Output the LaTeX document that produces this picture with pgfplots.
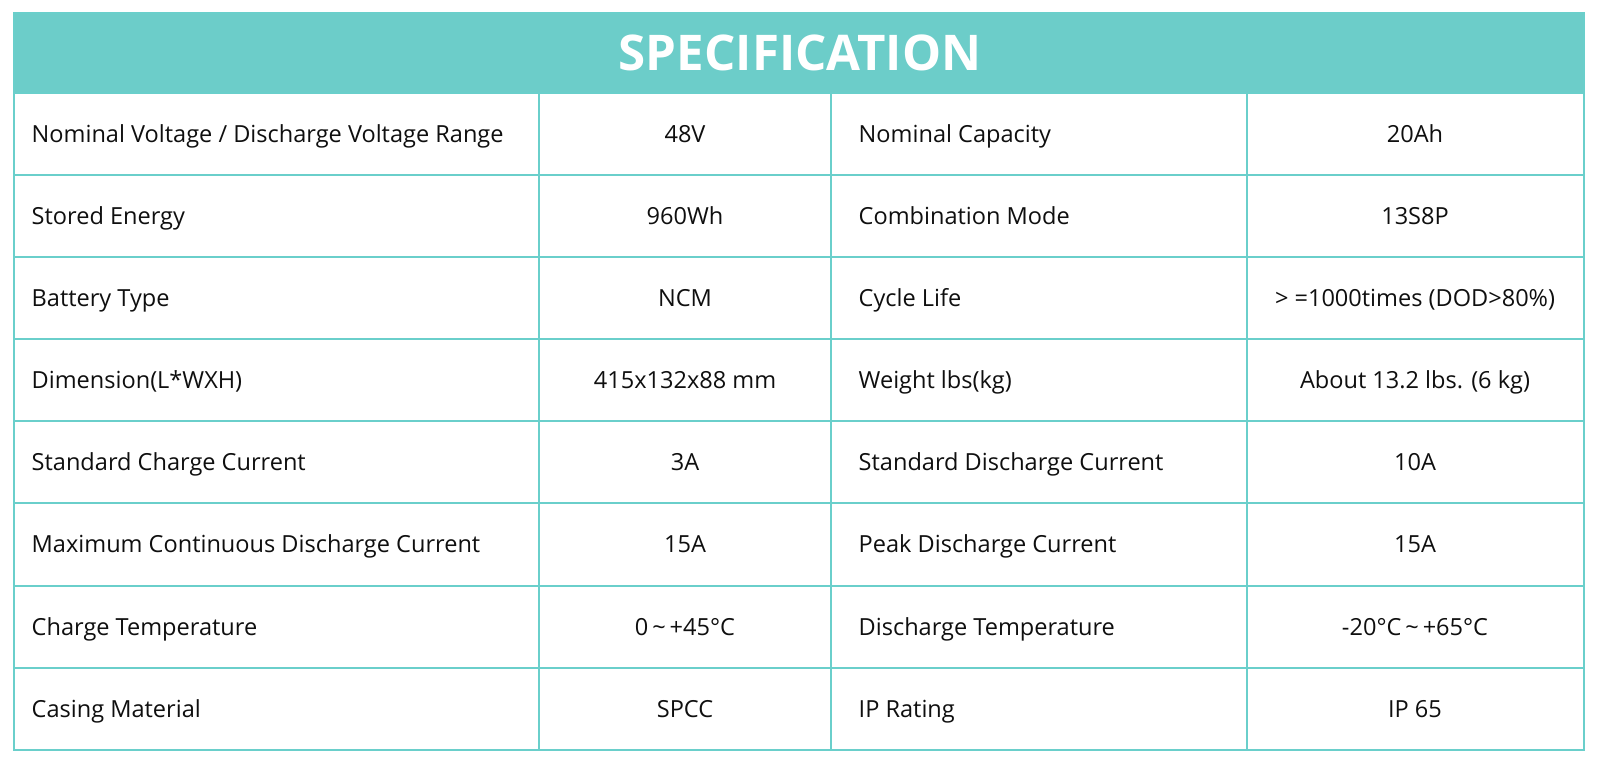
\documentclass[border=0pt]{standalone}
\usepackage{pgfplots}
\pgfplotsset{compat=1.18}
\usepackage{fontspec}
\setmainfont{Open Sans}
\definecolor{teal1}{RGB}{108,205,201}
\definecolor{line1}{RGB}{106,207,203}
\definecolor{txt}{RGB}{15,15,15}
\newcommand\fnt{\fontsize{6.7}{8}\selectfont}
\newcommand\row[5]{%
  \node[anchor=base west, text=txt, font=\fnt, inner sep=0pt] at (axis cs:31,#1) {#2};
  \node[anchor=base, text=txt, font=\fnt, inner sep=0pt] at (axis cs:685,#1) {#3};
  \node[anchor=base west, text=txt, font=\fnt, inner sep=0pt] at (axis cs:858,#1) {#4};
  \node[anchor=base, text=txt, font=\fnt, inner sep=0pt] at (axis cs:1415,#1) {#5};
}
\begin{document}
\begin{tikzpicture}
\begin{axis}[
  scale only axis, width=160mm, height=76.7mm,
  xmin=0, xmax=1600, ymin=0, ymax=767, y dir=reverse,
  hide axis, clip=false]
\path[fill=white] (axis cs:0,0) rectangle (axis cs:1600,767);
\fill[teal1] (axis cs:14,13) rectangle (axis cs:1584,93);
\node[text=white, font=\fontsize{14}{16}\selectfont\bfseries] at (axis cs:800,53) {SPECIFICATION};
% grid
\pgfplotsinvokeforeach{175,257,339,421,503,586,668}{
  \draw[line1, line width=0.6pt] (axis cs:14,#1) -- (axis cs:1584,#1);
}
\draw[line1, line width=0.6pt] (axis cs:14,93) -- (axis cs:1584,93);
\pgfplotsinvokeforeach{539,831,1247}{
  \draw[line1, line width=0.6pt] (axis cs:#1,93) -- (axis cs:#1,750);
}
\draw[line1, line width=0.6pt] (axis cs:14,13) rectangle (axis cs:1584,750);
% text
\row{142}{Nominal Voltage / Discharge Voltage Range}{48V}{Nominal Capacity}{20Ah}
\row{224}{Stored Energy}{960Wh}{Combination Mode}{13S8P}
\row{306}{Battery Type}{NCM}{Cycle Life}{> =1000times (DOD>80\%)}
\row{388}{Dimension(L*WXH)}{415x132x88 mm}{Weight lbs(kg)}{About 13.2 lbs. (6 kg)}
\row{470}{Standard Charge Current}{3A}{Standard Discharge Current}{10A}
\row{552}{Maximum Continuous Discharge Current}{15A}{Peak Discharge Current}{15A}
\row{635}{Charge Temperature}{0\,\textasciitilde\,+45°C}{Discharge Temperature}{-20°C\,\textasciitilde\,+65°C}
\row{717}{Casing Material}{SPCC}{IP Rating}{IP 65}
\end{axis}
\end{tikzpicture}
\end{document}
